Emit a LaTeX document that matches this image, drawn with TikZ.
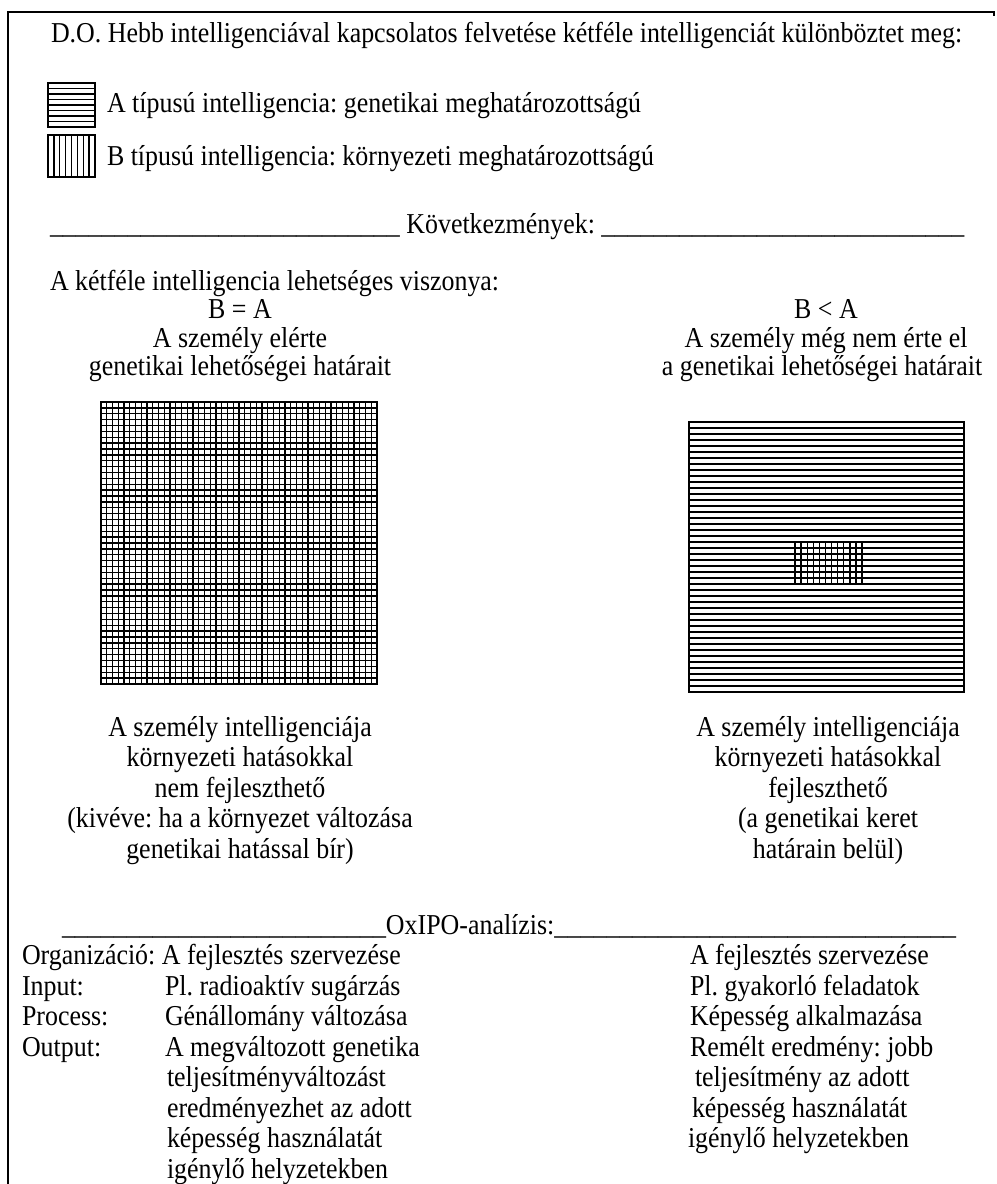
\documentclass[tikz,border=0pt]{standalone}
\usepackage{fontspec}
\setmainfont[FakeStretch=0.9]{Liberation Serif}
\newcommand\usc[1]{\foreach \k in {1,...,#1}{\_}}
\begin{document}
\frenchspacing
\begin{tikzpicture}[x=0.75pt,y=-0.75pt,
  txt/.style={inner sep=0pt, outer sep=0pt, font=\fontsize{21.6}{25}\selectfont, anchor=base west},
  ctxt/.style={txt, anchor=base},
  frameline/.style={line width=1.5pt},
  border/.style={line width=1.5pt},
  hatch/.style={line width=0.95pt}]
\useasboundingbox (0,0) rectangle (996,1184);
% frame
\coordinate (f1) at (8,1184);
\coordinate (f2) at (8,12);
\coordinate (f3) at (994,12);
\coordinate (f4) at (994,16);
\draw[frameline] (f1) -- (f2) -- (f3) -- (f4);

% title
\node[txt] (title) at (51,43) {D.O. Hebb intelligenciával kapcsolatos felvetése kétféle intelligenciát különböztet meg:};

% legend A
\foreach \k in {1,...,7} \draw[hatch] (48,{83+\k*5.5}) -- (95,{83+\k*5.5});
\draw[border] (48,83) rectangle (95,127);
\node[txt] (legA) at (107,113) {A típusú intelligencia: genetikai meghatározottságú};
% legend B
\foreach \k in {1,...,7} \draw[hatch] ({48+\k*5.875},135) -- ({48+\k*5.875},177);
\draw[border] (48,135) rectangle (95,177);
\node[txt] (legB) at (107,166) {B típusú intelligencia: környezeti meghatározottságú};

% consequences
\node[txt] (kov) at (50,233) {\usc{27} Következmények: \usc{28}};
\node[txt] (rel) at (50,290) {A kétféle intelligencia lehetséges viszonya:};

\node[ctxt] (ba) at (240,318) {B = A};
\node[ctxt] (l1) at (240,347) {A személy elérte};
\node[ctxt] (l2) at (240,375) {genetikai lehetőségei határait};

\node[ctxt] (bla) at (826,318) {B < A};
\node[ctxt] (r1) at (826,347) {A személy még nem érte el};
\node[ctxt] (r2) at (822,375) {a genetikai lehetőségei határait};

% left square grid
\foreach \i in {1,...,47} {
  \draw[hatch] ({101+\i*5.75},402) -- ({101+\i*5.75},684);
  \draw[hatch] (101,{402+\i*5.875}) -- (377,{402+\i*5.875});
}
\draw[border] (101,402) rectangle (377,684);

% right square
\foreach \i in {1,...,44} \draw[hatch] (689,{422+\i*6}) -- (964,{422+\i*6});
\foreach \i in {1,...,10} \draw[hatch] ({795+\i*6.1},542) -- ({795+\i*6.1},584);
\draw[border] (795,542) rectangle (862,584);
\draw[border] (689,422) rectangle (964,692);

% lower texts left
\node[ctxt] (ll1) at (240,736) {A személy intelligenciája};
\node[ctxt] (ll2) at (240,766.5) {környezeti hatásokkal};
\node[ctxt] (ll3) at (240,797) {nem fejleszthető};
\node[ctxt] (ll4) at (240,827.5) {(kivéve: ha a környezet változása};
\node[ctxt] (ll5) at (240,858) {genetikai hatással bír)};
% lower texts right
\node[ctxt] (rl1) at (828,736) {A személy intelligenciája};
\node[ctxt] (rl2) at (828,766.5) {környezeti hatásokkal};
\node[ctxt] (rl3) at (828,797) {fejleszthető};
\node[ctxt] (rl4) at (828,827.5) {(a genetikai keret};
\node[ctxt] (rl5) at (828,858) {határain belül)};

% OxIPO
\node[txt] (ox) at (62,934) {\usc{25}OxIPO-analízis:\usc{31}};

\node[txt] (o1) at (22,964.5) {Organizáció: A fejlesztés szervezése};
\node[txt] (o2) at (22,995) {Input:};
\node[txt] (o3) at (22,1025.5) {Process:};
\node[txt] (o4) at (22,1056) {Output:};
\node[txt] (i2) at (165,995) {Pl. radioaktív sugárzás};
\node[txt] (i3) at (165,1025.5) {Génállomány változása};
\node[txt] (i4) at (165,1056) {A megváltozott genetika};
\node[txt] (i5) at (167,1086.5) {teljesítményváltozást};
\node[txt] (i6) at (167,1117) {eredményezhet az adott};
\node[txt] (i7) at (167,1147.5) {képesség használatát};
\node[txt] (i8) at (167,1178) {igénylő helyzetekben};

\node[txt] (j1) at (690,964.5) {A fejlesztés szervezése};
\node[txt] (j2) at (690,995) {Pl. gyakorló feladatok};
\node[txt] (j3) at (690,1025.5) {Képesség alkalmazása};
\node[txt] (j4) at (690,1056) {Remélt eredmény: jobb};
\node[txt] (j5) at (695,1086.5) {teljesítmény az adott};
\node[txt] (j6) at (692,1117) {képesség használatát};
\node[txt] (j7) at (688,1147.5) {igénylő helyzetekben};
\end{tikzpicture}
\end{document}
